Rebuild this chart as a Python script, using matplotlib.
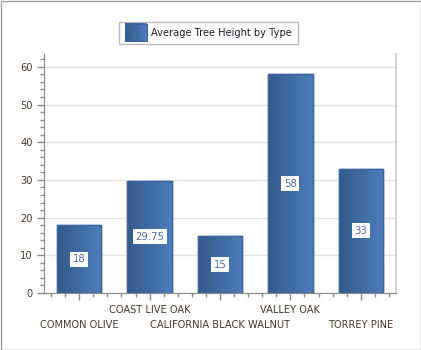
import numpy as np
import matplotlib
matplotlib.use("Agg")
import matplotlib.pyplot as plt
from matplotlib.patches import Rectangle
from matplotlib.ticker import MultipleLocator
from matplotlib.colors import LinearSegmentedColormap
from matplotlib.legend_handler import HandlerBase

categories = ["COMMON OLIVE", "COAST LIVE OAK", "CALIFORNIA BLACK WALNUT", "VALLEY OAK", "TORREY PINE"]
values = [18, 29.75, 15, 58, 33]
value_labels = ["18", "29.75", "15", "58", "33"]
series_name = "Average Tree Height by Type"

plt.rcParams['font.family'] = ['DejaVu Sans']
fig = plt.figure(figsize=(4.21, 3.5), dpi=100)
fig.patch.set_facecolor('white')
ax = fig.add_axes([44/421, 57/350, 352/421, 239/350])

cmap = LinearSegmentedColormap.from_list('bar', ['#345a8b', '#4c7dbb'])
grad = np.linspace(0, 1, 64).reshape(1, -1)

x = np.arange(len(categories))
bars = ax.bar(x, values, width=0.63, color='#3f6aa2', edgecolor='#3a64a0', linewidth=1.0, zorder=2)
for b in bars:
    x0, y0, w, h = b.get_x(), b.get_y(), b.get_width(), b.get_height()
    im = ax.imshow(grad, cmap=cmap, aspect='auto', extent=(x0, x0 + w, y0, y0 + h), zorder=2.5)
    im.set_clip_path(b)
    ax.add_patch(Rectangle((x0, y0), w, h, fill=False, edgecolor='#3a659f', linewidth=1.0, zorder=3))

for xi, v, lab in zip(x, values, value_labels):
    ax.text(xi, v / 2, lab, ha='center', va='center', fontsize=7.3, color='#4a6cab', zorder=4,
            bbox=dict(boxstyle='square,pad=0.25', facecolor='white', edgecolor='none'))

fs = 7.1
ax.set_xlim(-0.5, 4.5)
ax.set_ylim(0, 63.4)
ax.set_yticks(np.arange(0, 61, 10))
ax.yaxis.set_minor_locator(MultipleLocator(2))
ax.set_xticks(x)
ax.xaxis.set_minor_locator(MultipleLocator(0.2))
ax.set_xticklabels(categories)
ax.grid(axis='y', color='#e2e2e2', linewidth=1.0, zorder=0)
ax.set_axisbelow(True)

lab_color = '#45392d'
ax.tick_params(axis='both', which='major', length=5, color='#8a8a8a', labelsize=fs, labelcolor=lab_color, width=1)
ax.tick_params(axis='both', which='minor', length=3, color='#8a8a8a', width=1)
ax.tick_params(axis='y', pad=3)
for i, t in enumerate(ax.xaxis.get_major_ticks()):
    t.set_pad(3.5 if i % 2 == 1 else 14.5)

ax.spines['top'].set_visible(False)
ax.spines['right'].set_color('#d4d4d4')
ax.spines['right'].set_linewidth(1.5)
ax.spines['left'].set_color('#8a8a8a')
ax.spines['bottom'].set_color('#8a8a8a')


class GradHandler(HandlerBase):
    def create_artists(self, legend, orig_handle, xdescent, ydescent, width, height, fontsize, trans):
        bx = matplotlib.transforms.Bbox.from_bounds(-xdescent, -ydescent - 3, width, height + 6)
        img = matplotlib.image.BboxImage(
            matplotlib.transforms.TransformedBbox(bx, trans), cmap=cmap, interpolation='bilinear')
        img.set_data(grad)
        r = Rectangle((-xdescent, -ydescent - 3), width, height + 6, fill=False, edgecolor='#3a659f', lw=0.8, transform=trans)
        return [img, r]


handle = Rectangle((0, 0), 1, 1)
leg = fig.legend([handle], [series_name], handler_map={Rectangle: GradHandler()},
                 loc='center', bbox_to_anchor=(208.5/421, 1 - 33/350), fontsize=fs,
                 frameon=True, fancybox=False, edgecolor='#a8a8a8', handlelength=2.2,
                 handleheight=1.0, borderpad=0.6, handletextpad=0.5)
leg.get_frame().set_linewidth(1.0)
for t in leg.get_texts():
    t.set_color('#1c1c28')

fig.add_artist(Rectangle((0.5/421, 0.5/350), 420/421, 349/350, transform=fig.transFigure,
                         fill=False, edgecolor='#a0a0a0', linewidth=1.0))

fig.savefig('out.png', dpi=100)
